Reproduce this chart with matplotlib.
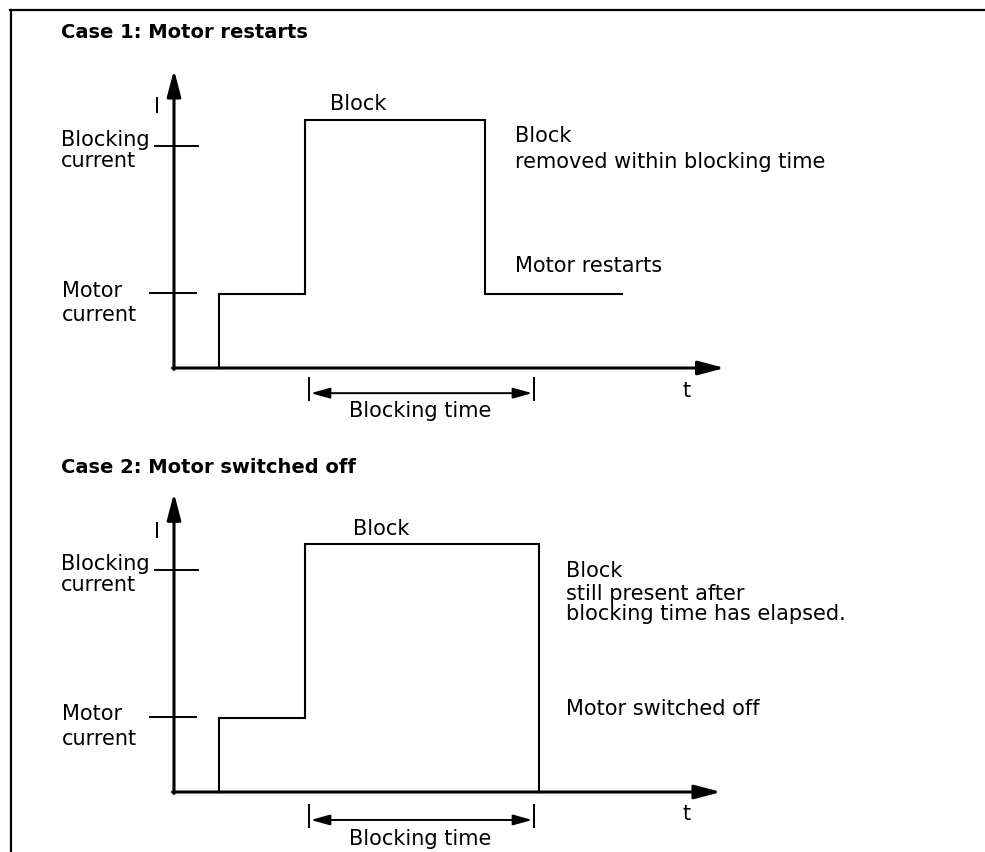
import matplotlib
matplotlib.use("Agg")
import matplotlib.pyplot as plt

# --- Diagram values (time in arbitrary units, current in multiples of motor current) ---
motor_current = 1.0
blocking_current = 3.0
block_current = 3.35
blocking_time = (3.0, 8.0)

case1_t = [1.0, 1.0, 2.9, 2.9, 6.9, 6.9, 9.95]
case1_i = [0.0, 1.0, 1.0, 3.35, 3.35, 1.0, 1.0]

case2_t = [1.0, 1.0, 2.9, 2.9, 8.1, 8.1]
case2_i = [0.0, 1.0, 1.0, 3.35, 3.35, 0.0]

titles = ["Case 1: Motor restarts", "Case 2: Motor switched off"]
notes1 = ["Block", "removed within blocking time"]
notes2 = ["Block", "still present after", "blocking time has elapsed."]
final1 = "Motor restarts"
final2 = "Motor switched off"

W, H = 985, 852
SX, SY = 45.0, 74.0      # px per time unit / current unit
FS = 15

fig = plt.figure(figsize=(W / 100, H / 100), dpi=100)

# frame + titles in pixel coordinates
base = fig.add_axes([0, 0, 1, 1])
base.set_xlim(0, W)
base.set_ylim(H, 0)
base.axis("off")
base.plot([10, W], [10, 10], color="black", lw=1.6, solid_capstyle="projecting")
base.plot([11, 11], [10, H], color="black", lw=1.6, solid_capstyle="projecting")
base.text(61, 38, titles[0], fontsize=14, fontweight="bold", va="baseline")
base.text(61, 473, titles[1], fontsize=14, fontweight="bold", va="baseline")


def panel(x0, y0):
    ax = fig.add_axes([0, 0, 1, 1])
    ax.set_xlim(-x0 / SX, (W - x0) / SX)
    ax.set_ylim((y0 - H) / SY, y0 / SY)
    ax.patch.set_alpha(0)
    ax.axis("off")
    return ax


def draw_axes(ax, x_tip, y_tip):
    arr = dict(arrowstyle="-|>,head_length=1.6,head_width=0.42", lw=2.2,
               color="black", shrinkA=0, shrinkB=0, mutation_scale=10)
    ax.annotate("", xy=(0, y_tip), xytext=(0, -0.02), arrowprops=arr)
    ax.annotate("", xy=(x_tip, 0), xytext=(-0.033, 0), arrowprops=arr)


def draw_bracket(ax, y_arrow, y_lo, y_hi):
    t0, t1 = blocking_time
    for t in (t0, t1):
        ax.plot([t, t], [y_lo, y_hi], color="black", lw=1.4)
    ax.annotate("", xy=(t0 + 0.04, y_arrow), xytext=(t1 - 0.04, y_arrow),
                arrowprops=dict(arrowstyle="<|-|>,head_length=1.15,head_width=0.32",
                                lw=1.4, color="black", shrinkA=0, shrinkB=0,
                                mutation_scale=10))


# ---------------- Case 1 ----------------
ax1 = panel(174, 368)
draw_axes(ax1, 12.24, 4.03)
ax1.plot([-0.42, 0.53], [blocking_current, blocking_current], color="black", lw=1.4)
ax1.plot([-0.53, 0.49], [motor_current + 0.02, motor_current + 0.02], color="black", lw=1.4)
ax1.plot(case1_t, case1_i, color="black", lw=1.5, solid_joinstyle="miter")
draw_bracket(ax1, -0.34, -0.135, -0.43)

ax1.text(-0.38, 3.45, "I", fontsize=FS, ha="center", va="baseline")
ax1.text(-2.51, 3.0, "Blocking", fontsize=FS, va="baseline")
ax1.text(-2.51, 2.72, "current", fontsize=FS, va="baseline")
ax1.text(-2.49, 0.955, "Motor", fontsize=FS, va="baseline")
ax1.text(-2.49, 0.63, "current", fontsize=FS, va="baseline")
ax1.text(3.47, 3.49, "Block", fontsize=FS, va="baseline")
ax1.text(7.58, 3.05, notes1[0], fontsize=FS, va="baseline")
ax1.text(7.58, 2.70, notes1[1], fontsize=FS, va="baseline")
ax1.text(7.58, 1.30, final1, fontsize=FS, va="baseline")
ax1.text(11.4, -0.39, "t", fontsize=FS, ha="center", va="baseline")
ax1.text(5.47, -0.66, "Blocking time", fontsize=FS, ha="center", va="baseline")

# ---------------- Case 2 ----------------
ax2 = panel(174, 792)
draw_axes(ax2, 12.16, 4.04)
ax2.plot([-0.42, 0.53], [blocking_current, blocking_current], color="black", lw=1.4)
ax2.plot([-0.53, 0.49], [motor_current + 0.02, motor_current + 0.02], color="black", lw=1.4)
ax2.plot(case2_t, case2_i, color="black", lw=1.5, solid_joinstyle="miter")
draw_bracket(ax2, -0.378, -0.176, -0.473)

ax2.text(-0.38, 3.43, "I", fontsize=FS, ha="center", va="baseline")
ax2.text(-2.51, 3.0, "Blocking", fontsize=FS, va="baseline")
ax2.text(-2.51, 2.72, "current", fontsize=FS, va="baseline")
ax2.text(-2.49, 0.97, "Motor", fontsize=FS, va="baseline")
ax2.text(-2.49, 0.64, "current", fontsize=FS, va="baseline")
ax2.text(3.98, 3.47, "Block", fontsize=FS, va="baseline")
ax2.text(8.71, 2.91, notes2[0], fontsize=FS, va="baseline")
ax2.text(8.71, 2.59, notes2[1], fontsize=FS, va="baseline")
ax2.text(8.71, 2.32, notes2[2], fontsize=FS, va="baseline")
ax2.text(8.71, 1.04, final2, fontsize=FS, va="baseline")
ax2.text(11.4, -0.38, "t", fontsize=FS, ha="center", va="baseline")
ax2.text(5.47, -0.72, "Blocking time", fontsize=FS, ha="center", va="baseline")

fig.savefig("out.png", dpi=100)
